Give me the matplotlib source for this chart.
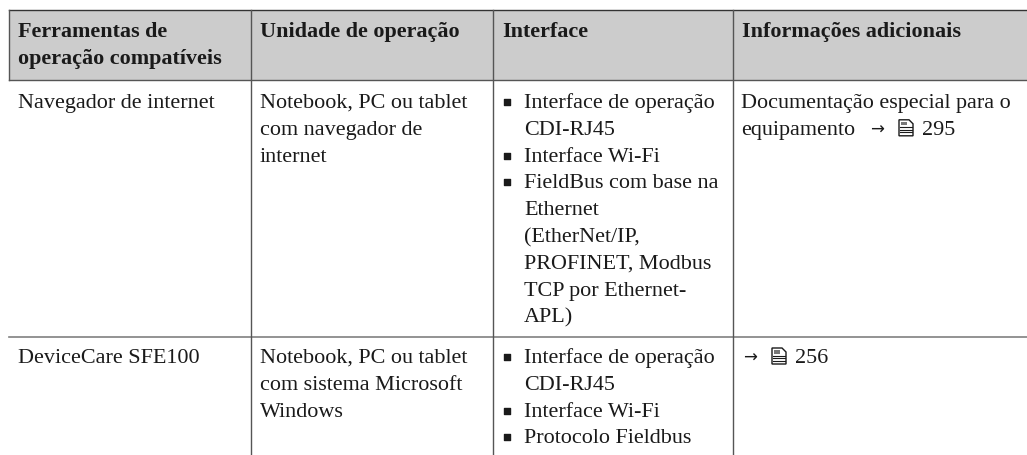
import matplotlib
matplotlib.use("Agg")
import matplotlib.pyplot as plt
from matplotlib.markers import MarkerStyle
from matplotlib.patches import Polygon, Rectangle

# table content
headers = [["Ferramentas de", "operação compatíveis"], ["Unidade de operação"], ["Interface"], ["Informações adicionais"]]
tools = [["Navegador de internet"], ["DeviceCare SFE100"]]
units = [["Notebook, PC ou tablet", "com navegador de", "internet"],
         ["Notebook, PC ou tablet", "com sistema Microsoft", "Windows"]]
interfaces = [[["Interface de operação", "CDI-RJ45"], ["Interface Wi-Fi"],
               ["FieldBus com base na", "Ethernet", "(EtherNet/IP,", "PROFINET, Modbus", "TCP por Ethernet-", "APL)"]],
              [["Interface de operação", "CDI-RJ45"], ["Interface Wi-Fi"], ["Protocolo Fieldbus"]]]
extra_text = [["Documentação especial para o", "equipamento"], [""]]
page_refs = ["295", "256"]

# layout in pixels
W, H = 1027, 455
col_x = [9, 251, 493, 733]
row_y = [10, 80, 337]
line_h = 26.8
FS = 15.9
FONT = ["Liberation Serif", "DejaVu Serif"]
INK = "#1a1a1a"

fig = plt.figure(figsize=(W / 100, H / 100), dpi=100)
ax = fig.add_axes([0, 0, 1, 1])
ax.set_xlim(0, W)
ax.set_ylim(H, 0)
ax.axis("off")


def put(x, y, s, **kw):
    ax.text(x, y, s, fontsize=FS, family=FONT, color=INK, va="baseline", ha="left", **kw)


def lines(x, y, rows, **kw):
    for i, s in enumerate(rows):
        put(x, y + i * line_h, s, **kw)
    return y + len(rows) * line_h


def book(x, y):
    # little document icon next to the page refs
    page = [(x, y + 1), (x, y - 15), (x + 10, y - 15), (x + 14, y - 11), (x + 14, y + 1)]
    ax.add_patch(Polygon(page, closed=True, fc="white", ec=INK, lw=1))
    ax.add_patch(Rectangle((x + 2, y - 13), 6, 3.5, fc="#777777", ec="none"))
    for dy in [7.5, 5, 2.5]:
        ax.plot([x + 1, x + 13], [y - dy, y - dy], color=INK, lw=0.8)


def page_ref(x, y, page):
    ax.text(x, y, "→", fontsize=12, family="DejaVu Sans", color=INK, va="baseline")
    book(x + 29, y)
    put(x + 52, y, page)


# header fill and grid
ax.add_patch(Rectangle((col_x[0], row_y[0]), W - col_x[0], row_y[1] - row_y[0], fc="#cccccc", ec="none"))
ax.plot([col_x[0], W], [row_y[0], row_y[0]], color="#333333", lw=1)
ax.plot([col_x[0], W], [row_y[1], row_y[1]], color="#555555", lw=1)
ax.plot([col_x[0], W], [row_y[2], row_y[2]], color="#808080", lw=1.2)
for i, x in enumerate(col_x):
    ax.plot([x, x], [row_y[0], H if i else row_y[1]], color="#555555", lw=1)

# header text
for x, h in zip(col_x, headers):
    lines(x + 9, 37, h, fontweight="bold")

# body
bullet = MarkerStyle("s", joinstyle="round")
first_y = [108, 363]
for r, y in enumerate(first_y):
    lines(col_x[0] + 9, y, tools[r])
    lines(col_x[1] + 9, y, units[r])
    yy = y
    for item in interfaces[r]:
        ax.plot(col_x[2] + 14, yy - 6, marker=bullet, ms=4.2, mew=1, color=INK)
        yy = lines(col_x[2] + 31, yy, item)
    lines(col_x[3] + 8, y, extra_text[r])

page_ref(col_x[3] + 137, first_y[0] + line_h, page_refs[0])
page_ref(col_x[3] + 10, first_y[1], page_refs[1])

fig.savefig("out.png", dpi=100)
